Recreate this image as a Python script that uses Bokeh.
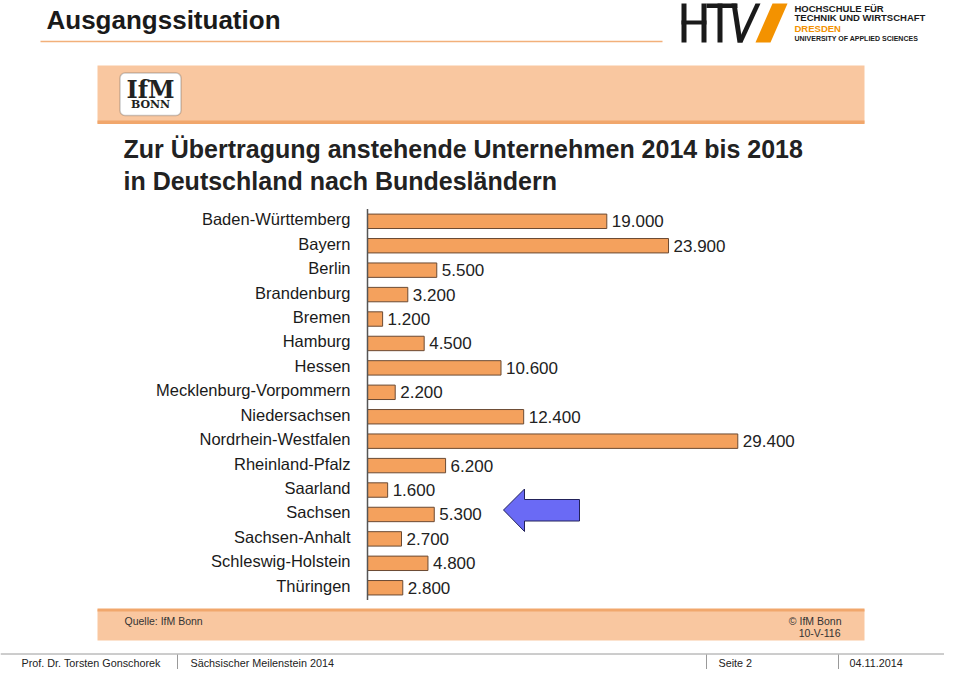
from bokeh.plotting import figure
from bokeh.models import Range1d, Label, BoxAnnotation, ColumnDataSource
from bokeh.embed import file_html
from bokeh.resources import INLINE
from bokeh.core.properties import value

# ---------------- data ----------------
states = ["Baden-Württemberg", "Bayern", "Berlin", "Brandenburg", "Bremen",
          "Hamburg", "Hessen", "Mecklenburg-Vorpommern", "Niedersachsen",
          "Nordrhein-Westfalen", "Rheinland-Pfalz", "Saarland", "Sachsen",
          "Sachsen-Anhalt", "Schleswig-Holstein", "Thüringen"]
companies = [19000, 23900, 5500, 3200, 1200, 4500, 10600, 2200, 12400,
             29400, 6200, 1600, 5300, 2700, 4800, 2800]
value_labels = [f"{v:,}".replace(",", ".") for v in companies]

slide_title = "Ausgangssituation"
chart_title_1 = "Zur Übertragung anstehende Unternehmen 2014 bis 2018"
chart_title_2 = "in Deutschland nach Bundesländern"
source_note = "Quelle: IfM Bonn"
copyright_1 = "© IfM Bonn"
copyright_2 = "10-V-116"
footer_items = ["Prof. Dr. Torsten Gonschorek", "Sächsischer Meilenstein 2014", "Seite 2", "04.11.2014"]

# ---------------- layout ----------------
W, H = 944, 669
LFONT = "Liberation Sans"
FONT = value(LFONT)

p = figure(width=W, height=H, x_range=Range1d(0, W), y_range=Range1d(H, 0),
           output_backend="svg", toolbar_location=None, min_border=0,
           x_axis_location=None, y_axis_location=None)
for g in p.grid:
    g.visible = False
p.outline_line_color = None
p.background_fill_color = "white"
p.border_fill_color = "white"

# bar chart scales (value axis and row axis placed inside the slide)
zero_px, px_per_unit = 367.0, 0.012595
row0_px, row_step = 220.8, 24.43
p.extra_x_ranges = {"val": Range1d((0 - zero_px) / px_per_unit, (W - zero_px) / px_per_unit)}
p.extra_y_ranges = {"row": Range1d((H - row0_px) / row_step, (0 - row0_px) / row_step)}

# ---------------- slide decoration ----------------
p.add_layout(Label(x=46, y=19, text=slide_title, text_font=LFONT, text_font_style="bold",
                   text_font_size="26px", text_color="#1a1a1a", text_baseline="middle"))
p.segment(x0=[40], y0=[41], x1=[662], y1=[41], line_color="#f2b07a", line_width=1.5)

# HTW logo
black = "#1a1a1a"
orange = "#f39200"
p.quad(left=[681, 701, 681, 706, 717], right=[686, 706, 706, 737, 722],
       top=[3, 3, 20, 3, 3], bottom=[42, 42, 24, 7.5, 42], fill_color=black, line_color=None)
p.patches(xs=[[731, 736, 742, 737], [755, 760, 742, 737], [772, 787, 770, 755]],
          ys=[[3, 3, 42, 42], [3, 3, 42, 42], [3, 3, 42, 42]],
          fill_color=[black, black, orange], line_color=None)
for txt, yy, col, fs in [("HOCHSCHULE FÜR", 7.5, black, "9.5px"),
                         ("TECHNIK UND WIRTSCHAFT", 17, black, "9.5px"),
                         ("DRESDEN", 27.5, orange, "9.5px"),
                         ("UNIVERSITY OF APPLIED SCIENCES", 38, black, "7px")]:
    p.add_layout(Label(x=794, y=yy, text=txt, text_font=LFONT, text_font_style="bold",
                       text_font_size=fs, text_color=col, text_baseline="middle"))

# IfM panel: header band, footer band
band = "#f9c7a0"
edge = "#f1a76c"
p.quad(left=[97], right=[864], top=[65], bottom=[123], fill_color=band, line_color=None)
p.quad(left=[97], right=[864], top=[120], bottom=[123.5], fill_color=edge, line_color=None)
p.quad(left=[97], right=[864], top=[609], bottom=[640], fill_color=band, line_color=None)
p.quad(left=[97], right=[864], top=[608], bottom=[611], fill_color=edge, line_color=None)

# IfM logo
p.add_layout(BoxAnnotation(left=119.5, right=180.5, top=72.5, bottom=115, border_radius=5,
                           fill_color="white", fill_alpha=1, line_color="#555555", line_width=1.5))
p.add_layout(Label(x=150, y=89, text="IfM", text_font="DejaVu Serif", text_font_style="bold",
                   text_font_size="24px", text_color="#222222", text_align="center", text_baseline="middle"))
p.add_layout(Label(x=150, y=104, text="BONN", text_font="DejaVu Serif", text_font_style="bold",
                   text_font_size="11px", text_color="#222222", text_align="center", text_baseline="middle"))

# chart title
for txt, yy in [(chart_title_1, 148), (chart_title_2, 180)]:
    p.add_layout(Label(x=123, y=yy, text=txt, text_font=LFONT, text_font_style="bold",
                       text_font_size="25px", text_color="#222222", text_baseline="middle"))

# source / copyright
p.add_layout(Label(x=124, y=620, text=source_note, text_font=LFONT, text_font_size="10.5px",
                   text_color="#333333", text_baseline="middle"))
p.add_layout(Label(x=841, y=620, text=copyright_1, text_font=LFONT, text_font_size="10.5px",
                   text_color="#333333", text_baseline="middle", text_align="right"))
p.add_layout(Label(x=840, y=632, text=copyright_2, text_font=LFONT, text_font_size="10.5px",
                   text_color="#333333", text_baseline="middle", text_align="right"))

# ---------------- bar chart ----------------
idx = list(range(len(states)))
src = ColumnDataSource(dict(state=states, y=idx, v=companies, lab=value_labels))
p.hbar(y="y", left=0, right="v", height=0.59, source=src, x_range_name="val", y_range_name="row",
       fill_color="#f4a15d", line_color="#6b4a33", line_width=1)
p.segment(x0=[0], y0=[-0.5], x1=[0], y1=[len(states) - 0.5], x_range_name="val", y_range_name="row",
          line_color="#555555", line_width=1.5)
p.text(x=0, y="y", text="state", source=src, x_range_name="val", y_range_name="row",
       x_offset=-17, y_offset=-2, text_align="right", text_baseline="middle",
       text_font=FONT, text_font_size="16.5px", text_color="#1a1a1a")
p.text(x="v", y="y", text="lab", source=src, x_range_name="val", y_range_name="row",
       x_offset=5, text_align="left", text_baseline="middle",
       text_font=FONT, text_font_size="17px", text_color="#222222")

# highlight arrow pointing at Sachsen
p.patch(x=[503, 524, 524, 579, 579, 524, 524], y=[509.5, 488.5, 499, 499, 520.5, 520.5, 531],
        fill_color="#6a6af5", line_color="#22225a", line_width=1)

# ---------------- footer (kept inside the figure's height) ----------------
p.segment(x0=[0], y0=[653.5], x1=[W], y1=[653.5], line_color="#9a9a9a", line_width=1)
p.segment(x0=[177, 706, 838], y0=[654, 654, 654], x1=[177, 706, 838], y1=[H, H, H],
          line_color="#9a9a9a", line_width=1)
for txt, xx in zip(footer_items, [21, 190, 718, 849]):
    p.add_layout(Label(x=xx, y=662, text=txt, text_font=LFONT, text_font_size="10.8px",
                       text_color="#222222", text_baseline="middle"))

open("out.html", "w").write(file_html(p, INLINE))
